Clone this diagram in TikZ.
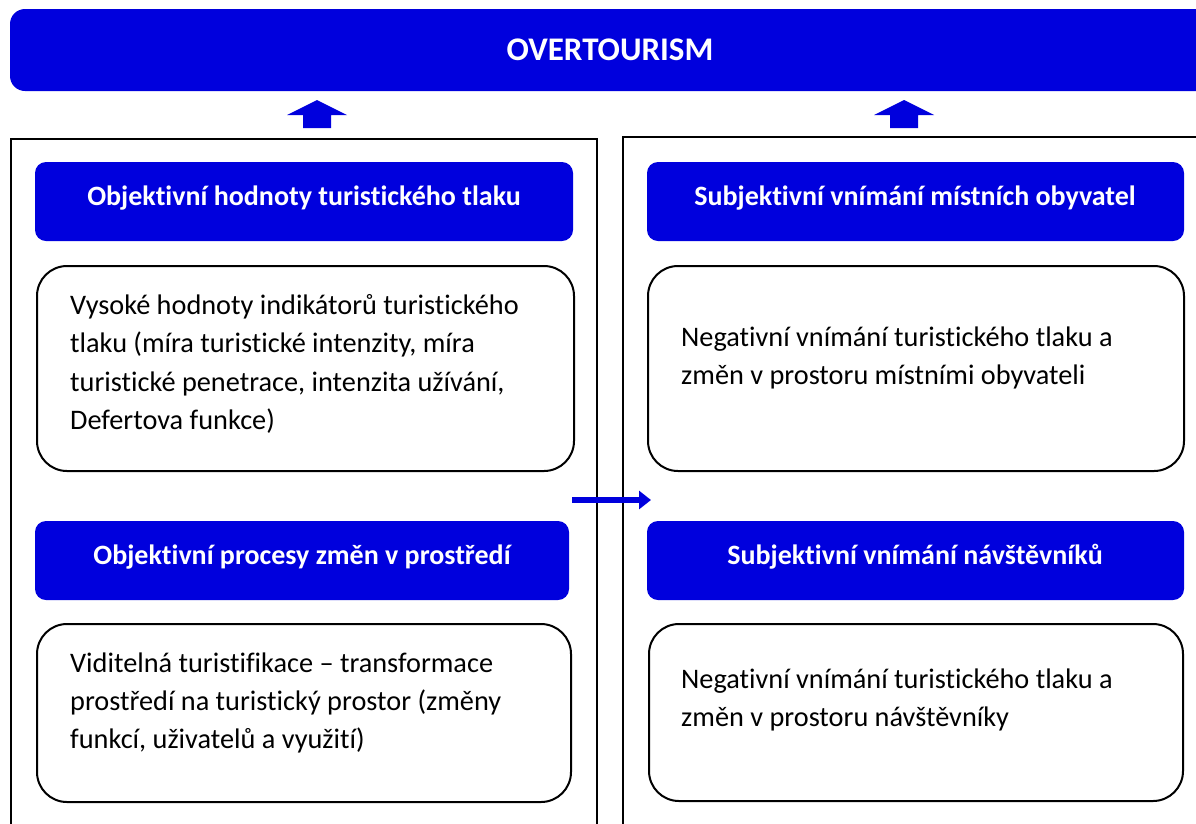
\documentclass[tikz,border=0pt]{standalone}
\usepackage{fontspec}
\setmainfont{Carlito}[Ligatures={NoCommon}]
\usetikzlibrary{arrows.meta}
\definecolor{headblue}{RGB}{0,0,221}
\tikzset{
  px/.style={x=1pt,y=-1pt},
  titlebar/.style={fill=headblue, draw=none, rounded corners=15pt},
  headbox/.style={fill=headblue, draw=none, rounded corners=11pt},
  bodybox/.style={draw=black, line width=2pt, rounded corners=30pt, fill=white},
  frame/.style={draw=black, line width=2pt},
  headtext/.style={text=white, font=\bfseries\fontsize{28}{32}\selectfont},
  bodytext/.style={text=black, font=\fontsize{28.3}{38.3}\selectfont, align=left, anchor=west, inner sep=0pt},
  uparrow/.style={fill=headblue, draw=none},
  sidearrow/.style={draw=headblue, line width=6pt, -{Triangle[length=12pt,width=18pt]}}
}
\begin{document}
\begin{tikzpicture}[px]
\useasboundingbox (0,0) rectangle (1196,823);
\clip (0,0) rectangle (1196,823);
% title bar running past the right edge
\fill[titlebar] (10,9) rectangle (1240,91);
\node[headtext, font=\bfseries\fontsize{33}{36}\selectfont] (title) at (610,50) {OVERTOURISM};
% two outer frames, open beyond the page edges
\draw[frame] (11,900) -- (11,139) -- (597,139) -- (597,900);
\draw[frame] (623,900) -- (623,137) -- (1240,137);
% block arrows pointing up to the title bar
\coordinate (la) at (317,100);
\coordinate (ra) at (904,100);
\fill[uparrow] (la) -- ++(30,15) -- ++(-16,0) -- ++(0,13) -- ++(-28,0) -- ++(0,-13) -- ++(-16,0) -- cycle;
\fill[uparrow] (ra) -- ++(30,15) -- ++(-16,0) -- ++(0,13) -- ++(-28,0) -- ++(0,-13) -- ++(-16,0) -- cycle;
% left column
\fill[headbox] (35,162) rectangle (573,241);
\node[headtext] (h1) at (304,198) {Objektivní hodnoty turistického tlaku};
\draw[bodybox] (37,266) rectangle (574,471);
\node[bodytext] (b1) at (70,364) {Vysoké hodnoty indikátorů turistického\\tlaku (míra turistické intenzity, míra\\turistické penetrace, intenzita užívání,\\Defertova funkce)};
\fill[headbox] (35,521) rectangle (569,600);
\node[headtext] (h2) at (302,557) {Objektivní procesy změn v prostředí};
\draw[bodybox] (37,624) rectangle (571,802);
\node[bodytext] (b2) at (70,703) {Viditelná turistifikace – transformace\\prostředí na turistický prostor (změny\\funkcí, uživatelů a využití)};
% right column
\fill[headbox] (647,162) rectangle (1184,241);
\node[headtext] (h3) at (915,198) {Subjektivní vnímání místních obyvatel};
\draw[bodybox] (648,266) rectangle (1184,471);
\node[bodytext] (b3) at (681,358) {Negativní vnímání turistického tlaku a\\změn v prostoru místními obyvateli};
\fill[headbox] (647,521) rectangle (1184,600);
\node[headtext] (h4) at (915,557) {Subjektivní vnímání návštěvníků};
\draw[bodybox] (649,624) rectangle (1183,801);
\node[bodytext] (b4) at (681,700) {Negativní vnímání turistického tlaku a\\změn v prostoru návštěvníky};
% arrow from the objective side to the subjective side
\coordinate (as) at (572,500);
\coordinate (ae) at (651,500);
\draw[sidearrow] (as) -- (ae);
\end{tikzpicture}
\end{document}
